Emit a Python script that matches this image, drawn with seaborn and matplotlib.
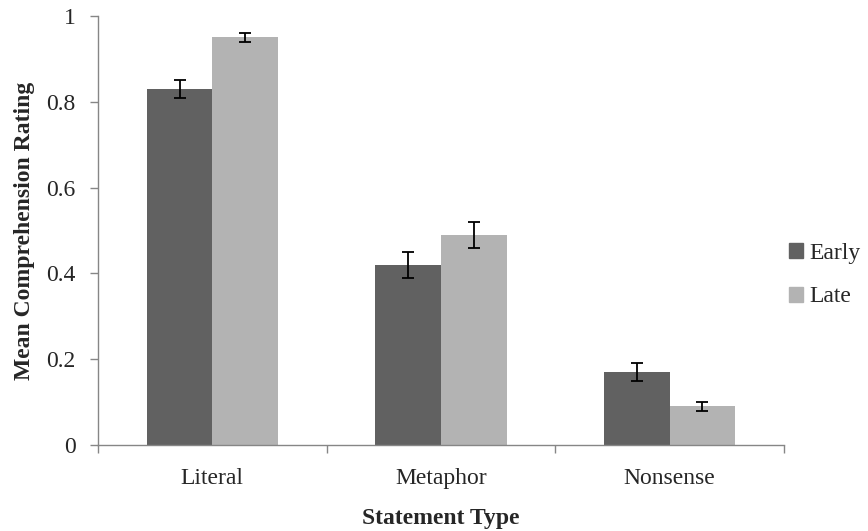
import numpy as np
import pandas as pd
import matplotlib
matplotlib.use("Agg")
import matplotlib.pyplot as plt
import seaborn as sns

categories = ["Literal", "Metaphor", "Nonsense"]
groups = ["Early", "Late"]
early_mean = [0.83, 0.42, 0.17]
late_mean = [0.95, 0.49, 0.09]
early_err = [0.02, 0.03, 0.02]
late_err = [0.01, 0.03, 0.01]

colors = {"Early": "#616161", "Late": "#b3b3b3"}

sns.set_style("white")
plt.rcParams["font.family"] = ["Liberation Serif", "DejaVu Serif"]

df = pd.DataFrame({
    "Statement Type": categories * 2,
    "group": ["Early"] * 3 + ["Late"] * 3,
    "rating": early_mean + late_mean,
    "err": early_err + late_err,
})

fig = plt.figure(figsize=(8.68, 5.31), dpi=100)
ax = fig.add_axes([98 / 868, 86 / 531, 686 / 868, 429 / 531])

sns.barplot(data=df, x="Statement Type", y="rating", hue="group",
            palette=colors, width=0.573, errorbar=None, saturation=1,
            linewidth=0, ax=ax)

# error bars at bar centres
for grp, cont in zip(groups, ax.containers):
    sub = df[df["group"] == grp]
    xs = [p.get_x() + p.get_width() / 2 for p in cont.patches]
    ax.errorbar(xs, sub["rating"], yerr=sub["err"], fmt="none",
                ecolor="black", elinewidth=1.3, capsize=4.5, capthick=1.3)

ax.set_xlim(-0.5, 2.5)
ax.set_ylim(0, 1)
ax.set_yticks([0, 0.2, 0.4, 0.6, 0.8, 1.0])
ax.set_yticklabels(["0", "0.2", "0.4", "0.6", "0.8", "1"])
ax.set_xticks([-0.5, 0.5, 1.5, 2.5], minor=True)
ax.tick_params(axis="x", which="major", length=0, labelsize=17, pad=16.5)
ax.tick_params(axis="x", which="minor", length=6, width=1, color="#868686",
               direction="out", bottom=True)
ax.tick_params(axis="y", length=6, width=1, color="#868686", direction="out",
               left=True, labelsize=17, pad=10)

for s in ["top", "right"]:
    ax.spines[s].set_visible(False)
for s in ["left", "bottom"]:
    ax.spines[s].set_color("#868686")
    ax.spines[s].set_linewidth(1)

ax.set_xlabel("Statement Type", fontsize=17, fontweight="bold", labelpad=14)
ax.set_ylabel("Mean Comprehension Rating", fontsize=17, fontweight="bold", labelpad=8)

ax.legend_.remove()
handles = [plt.Rectangle((0, 0), 1, 1, color=colors[g]) for g in groups]
fig.legend(handles, groups, loc="center left",
           bbox_to_anchor=(789 / 868, (531 - 275) / 531),
           frameon=False, fontsize=17, handlelength=0.6, handleheight=0.6,
           handletextpad=0.25, labelspacing=0.97, borderaxespad=0,
           borderpad=0)

fig.savefig("out.png", dpi=100)
